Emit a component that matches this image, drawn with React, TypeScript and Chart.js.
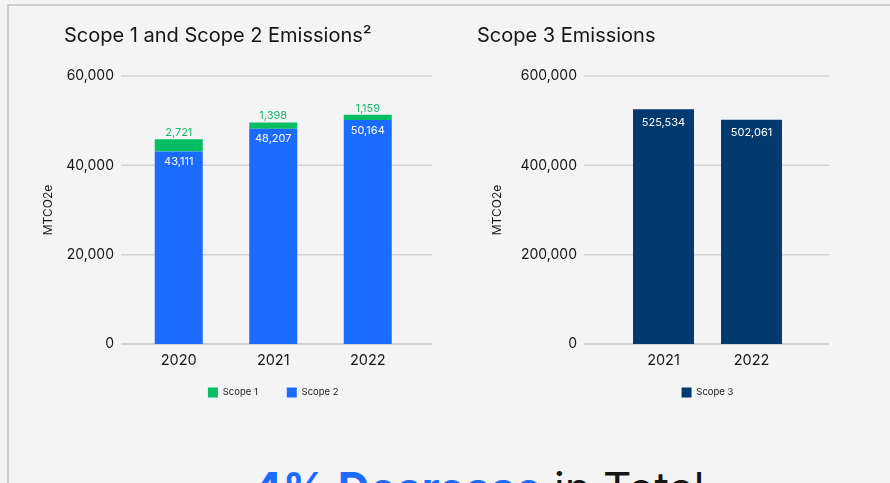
import React, { useEffect, useRef } from 'react';
import { Chart, registerables } from 'chart.js';

Chart.register(...registerables);

// ---- data ----
const scope12Years = ['2020', '2021', '2022'];
const scope1Values = [2721, 1398, 1159];
const scope2Values = [43111, 48207, 50164];
const scope12TickValues = [0, 20000, 40000, 60000];

const scope3Years = ['2021', '2022'];
const scope3Values = [525534, 502061];
const scope3TickValues = [0, 200000, 400000, 600000];

// ---- styles ----
const FONT = 'Inter, "Liberation Sans", Arial, sans-serif';
const TEXT = '#161616';
const BLUE = '#1c6bff';
const GREEN = '#07bd63';
const GREEN_TEXT = '#1db86a';
const NAVY = '#023a70';

const fmt = (v: number) => Number(v).toLocaleString('en-US');

function makeValueLabels(styles: { color: string; dy: number }[], font: string) {
  return {
    id: 'valueLabels',
    afterDatasetsDraw(chart: any) {
      const ctx = chart.ctx;
      ctx.save();
      ctx.textAlign = 'center';
      ctx.textBaseline = 'middle';
      ctx.font = font;
      chart.data.datasets.forEach((ds: any, di: number) => {
        const st = styles[di];
        const meta = chart.getDatasetMeta(di);
        meta.data.forEach((bar: any, i: number) => {
          ctx.fillStyle = st.color;
          ctx.fillText(fmt(ds.data[i]), bar.x, bar.y + st.dy);
        });
      });
      ctx.restore();
    },
  };
}

function makeExtendedGrid(extLeft: number, extRight: number) {
  return {
    id: 'extendedGrid',
    beforeDatasetsDraw(chart: any) {
      const { ctx, chartArea } = chart;
      const y = chart.scales.y;
      ctx.save();
      ctx.lineWidth = 1.5;
      y.ticks.forEach((t: any) => {
        const py = y.getPixelForValue(t.value);
        ctx.strokeStyle = t.value === 0 ? '#c6c6c6' : '#d3d3d3';
        ctx.beginPath();
        ctx.moveTo(chartArea.left - extLeft, py);
        ctx.lineTo(chartArea.right + extRight, py);
        ctx.stroke();
      });
      ctx.restore();
    },
  };
}

function baseOptions(p: {
  title: string;
  padLeft: number;
  padRight: number;
  yMax: number;
  yStep: number;
  yWidth: number;
  yTickPad: number;
  yTitlePad: number;
  stacked: boolean;
}) {
  return {
    responsive: true,
    maintainAspectRatio: false,
    animation: false,
    layout: { padding: { left: p.padLeft, right: p.padRight, top: 0, bottom: 12.5 } },
    scales: {
      x: {
        stacked: p.stacked,
        grid: { display: false, drawTicks: false },
        border: { display: false },
        ticks: { padding: 7.5, color: TEXT, font: { family: FONT, size: 14.5 } },
        afterFit: (s: any) => {
          s.height = 26;
        },
      },
      y: {
        stacked: p.stacked,
        min: 0,
        max: p.yMax,
        grid: { display: false, drawTicks: false },
        border: { display: false },
        ticks: {
          stepSize: p.yStep,
          padding: p.yTickPad,
          color: TEXT,
          font: { family: FONT, size: 14 },
          callback: (v: any) => fmt(v),
        },
        title: {
          display: true,
          text: 'MTCO2e',
          color: TEXT,
          font: { family: FONT, size: 12 },
          padding: { top: p.yTitlePad, bottom: 0 },
        },
        afterFit: (s: any) => {
          s.width = p.yWidth;
        },
      },
    },
    plugins: {
      title: {
        display: true,
        text: p.title,
        align: 'start',
        color: TEXT,
        padding: { top: 23.5, bottom: 28.5 },
        font: { family: FONT, size: 20, weight: 'normal', lineHeight: 1.2 },
      },
      legend: {
        position: 'bottom',
        fullSize: false,
        reverse: true,
        title: {
          display: true,
          text: '',
          font: { size: 1, lineHeight: 1 },
          padding: { top: 0, bottom: -12.5 },
        },
        labels: {
          boxWidth: 10,
          boxHeight: 10,
          padding: 29,
          color: '#222',
          font: { family: FONT, size: 9.5 },
        },
      },
      tooltip: { enabled: false },
    },
  };
}

function leftConfig(): any {
  return {
    type: 'bar',
    data: {
      labels: scope12Years,
      datasets: [
        {
          label: 'Scope 2',
          data: scope2Values,
          backgroundColor: BLUE,
          borderWidth: 0,
          barPercentage: 0.508,
          categoryPercentage: 1,
        },
        {
          label: 'Scope 1',
          data: scope1Values,
          backgroundColor: GREEN,
          borderWidth: 0,
          barPercentage: 0.508,
          categoryPercentage: 1,
        },
      ],
    },
    options: baseOptions({
      title: 'Scope 1 and Scope 2 Emissions²',
      padLeft: 64,
      padRight: 30,
      yMax: scope12TickValues[scope12TickValues.length - 1],
      yStep: scope12TickValues[1] - scope12TickValues[0],
      yWidth: 67.5,
      yTickPad: 17.5,
      yTitlePad: -23.2,
      stacked: true,
    }),
    plugins: [
      makeExtendedGrid(10.5, 17),
      makeValueLabels(
        [
          { color: '#ffffff', dy: 10.5 },
          { color: GREEN_TEXT, dy: -6.5 },
        ],
        `11px ${FONT}`
      ),
    ],
  };
}

function rightConfig(): any {
  return {
    type: 'bar',
    data: {
      labels: scope3Years,
      datasets: [
        {
          label: 'Scope 3',
          data: scope3Values,
          backgroundColor: NAVY,
          borderWidth: 0,
          barPercentage: 0.693,
          categoryPercentage: 1,
        },
      ],
    },
    options: baseOptions({
      title: 'Scope 3 Emissions',
      padLeft: 32,
      padRight: 94.5,
      yMax: scope3TickValues[scope3TickValues.length - 1],
      yStep: scope3TickValues[1] - scope3TickValues[0],
      yWidth: 142.5,
      yTickPad: 42.5,
      yTitlePad: 12.8,
      stacked: false,
    }),
    plugins: [
      makeExtendedGrid(35.5, 33.5),
      makeValueLabels([{ color: '#ffffff', dy: 13 }], `11px ${FONT}`),
    ],
  };
}

function ChartBox({ make, left }: { make: () => any; left: number }) {
  const ref = useRef<HTMLCanvasElement | null>(null);
  useEffect(() => {
    if (!ref.current) return;
    const chart = new Chart(ref.current, make());
    return () => chart.destroy();
  }, []);
  return (
    <div style={{ position: 'absolute', left, top: 0, width: 445, height: 420 }}>
      <canvas ref={ref} />
    </div>
  );
}

export default function App() {
  return (
    <div
      style={{
        position: 'fixed',
        left: 0,
        top: 0,
        width: 890,
        height: 483,
        background: '#f4f4f4',
        overflow: 'hidden',
        fontFamily: FONT,
      }}
    >
      <div
        style={{
          position: 'absolute',
          left: 7,
          top: 4,
          width: 900,
          height: 500,
          borderTop: '2px solid #cdcdcd',
          borderLeft: '2px solid #cdcdcd',
        }}
      />
      <ChartBox make={leftConfig} left={0} />
      <ChartBox make={rightConfig} left={445} />
      <div
        style={{
          position: 'absolute',
          left: 253,
          top: 466,
          fontSize: 44,
          lineHeight: '44px',
          whiteSpace: 'nowrap',
          color: TEXT,
        }}
      >
        <span style={{ color: BLUE, fontWeight: 700 }}>4% Decrease</span> in Total
      </div>
    </div>
  );
}
